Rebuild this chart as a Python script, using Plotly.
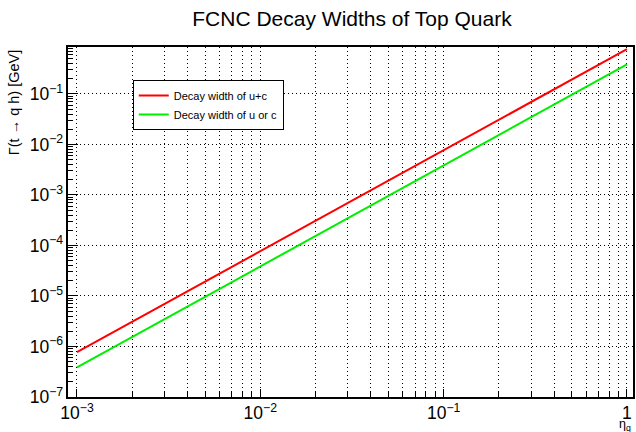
import plotly.graph_objects as go

# Data (log-log straight lines)
eta_q = [0.001, 0.01, 0.1, 1.0]
width_u_plus_c = [7.7e-7, 7.7e-5, 7.7e-3, 0.77]
width_u_or_c = [3.85e-7, 3.85e-5, 3.85e-3, 0.385]

series_names = ["Decay width of u+c", "Decay width of u or c"]
series_colors = ["#ff0000", "#00ee00"]

fig = go.Figure()
for name, ys, col in zip(series_names, [width_u_plus_c, width_u_or_c], series_colors):
    fig.add_trace(go.Scatter(x=eta_q, y=ys, mode="lines", name=name,
                             line=dict(color=col, width=2)))

W, H = 636, 432
L, R, T, B = 68, 1, 47, 35
pw, ph = W - L - R, H - T - B

grid_dash = "1px,3px"

fig.update_layout(
    width=W, height=H,
    margin=dict(l=L, r=R, t=T, b=B),
    paper_bgcolor="white", plot_bgcolor="white",
    font=dict(family="Liberation Sans, Arial, sans-serif", color="black", size=13),
    title=dict(text="FCNC Decay Widths of Top Quark", x=352 / W, xanchor="center",
               y=1 - 19 / H, yanchor="middle", font=dict(size=21)),
    legend=dict(x=(133 - L) / pw, y=(397 - 80) / ph, xanchor="left", yanchor="top",
                bgcolor="white", bordercolor="black", borderwidth=1,
                font=dict(size=11), itemwidth=30, tracegroupgap=0),
    showlegend=True,
)

fig.update_xaxes(
    type="log", range=[-3.049, 0.033], dtick=1, exponentformat="power",
    showline=True, linecolor="black", linewidth=2, mirror=True,
    ticks="inside", ticklen=8, tickcolor="black",
    showgrid=True, gridcolor="black", griddash=grid_dash, gridwidth=1,
    zeroline=False, tickfont=dict(size=14),
    minor=dict(ticks="inside", ticklen=5, dtick="D1", tickcolor="black",
               showgrid=True, gridcolor="black", griddash=grid_dash, gridwidth=1),
)
fig.update_yaxes(
    type="log", range=[-7, -0.07], dtick=1, exponentformat="power",
    showline=True, linecolor="black", linewidth=2, mirror=True,
    ticks="inside", ticklen=10, tickcolor="black",
    showgrid=True, gridcolor="black", griddash=grid_dash, gridwidth=1,
    zeroline=False, tickfont=dict(size=14),
    minor=dict(ticks="inside", ticklen=5, dtick="D1", tickcolor="black", showgrid=False),
)

fig.add_annotation(text="Γ(t → q h) [GeV]", xref="paper", yref="paper",
                   x=-(L - 14) / pw, y=1.0, xanchor="center", yanchor="top",
                   textangle=-90, showarrow=False, font=dict(size=14.5))
fig.add_annotation(text="η<sub>q</sub>", xref="paper", yref="paper",
                   x=(620 - L) / pw, y=-(416 - T - ph) / ph, xanchor="left", yanchor="top",
                   showarrow=False, font=dict(size=12.5), borderpad=0)

fig.write_html("out.html")
